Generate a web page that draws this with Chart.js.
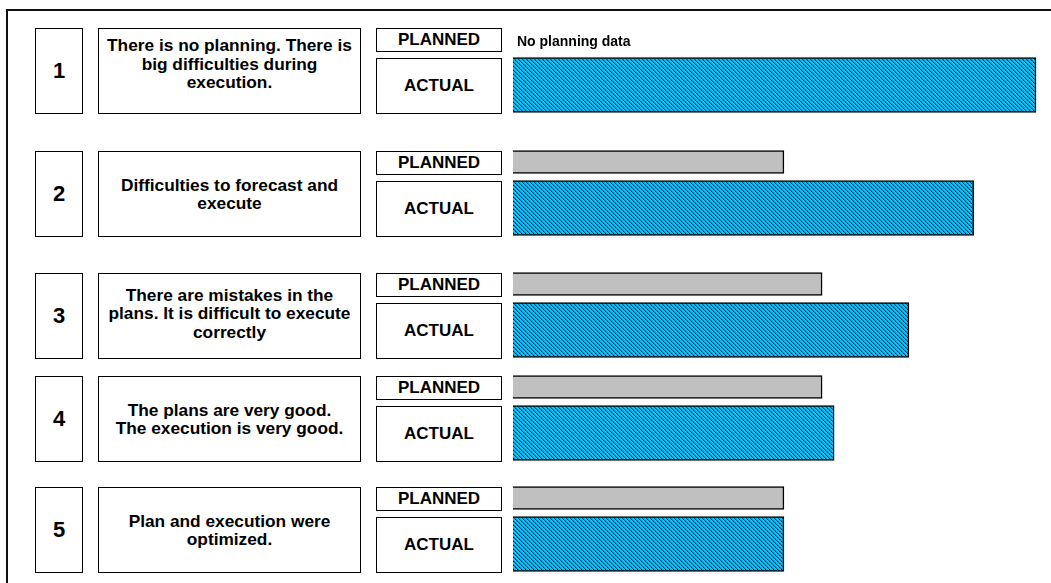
<!DOCTYPE html>
<html>
<head>
<meta charset="utf-8">
<script src="https://cdn.jsdelivr.net/npm/chart.js@4.4.1/dist/chart.umd.min.js"></script>
<style>
    html, body { margin: 0; padding: 0; background: #fff; }
    body { width: 1051px; height: 583px; position: relative; overflow: hidden;
           font-family: "Liberation Sans", Arial, sans-serif; font-weight: bold; color: #000; }
    .frame { position: absolute; left: 6px; top: 9px; width: 1200px; height: 700px;
             border-left: 2px solid #111; border-top: 2px solid #111; }
    .box { position: absolute; box-sizing: border-box; border: 1px solid #000; background: #fff;
           display: flex; align-items: center; justify-content: center; text-align: center; }
    .num { left: 35px; width: 48px; height: 86px; font-size: 22px; }
    .desc { left: 98px; width: 263px; height: 86px; font-size: 17.3px; line-height: 18.5px; }
    .lbl-plan { left: 376px; width: 126px; height: 24px; font-size: 17px; }
    .lbl-act { left: 376px; width: 126px; height: 56px; font-size: 17px; }
    .bars { position: absolute; left: 505px; width: 546px; height: 112px; }
</style>
</head>
<body>
<div class="frame"></div>
<div id="rows"></div>
<script>
// Données
const rowNumbers = ['1', '2', '3', '4', '5'];
const descriptions = [
    ['There is no planning. There is', 'big difficulties during', 'execution.'],
    ['Difficulties to forecast and', 'execute'],
    ['There are mistakes in the', 'plans. It is difficult to execute', 'correctly'],
    ['The plans are very good.', 'The execution is very good.'],
    ['Plan and execution were', 'optimized.']
];
const barLabels = ['PLANNED', 'ACTUAL'];
const plannedValues = [null, 51.8, 59.1, 59.1, 51.8];
const actualValues = [100, 88.1, 75.7, 61.4, 51.8];
const valueMax = 100;
const noDataText = 'No planning data';

// position verticale de chaque ligne (et petit décalage du texte)
const rowTops = [28, 151, 273, 376, 487];
const descShift = [14, 0, 5, 0, 0];

// motif hachuré pour les barres ACTUAL
function makeHatch() {
    const c = document.createElement('canvas');
    c.width = 8; c.height = 8;
    const g = c.getContext('2d');
    g.fillStyle = '#00CCFF';
    g.fillRect(0, 0, 8, 8);
    for (let y = 0; y < 8; y++) {
        for (let k = 0; k < 8; k += 4) {
            g.fillStyle = (y % 2 === 0) ? '#000000' : '#00669A';
            g.fillRect((y + k) % 8, y, 1, 1);
            g.fillStyle = '#0090C4';
            g.fillRect((y + k + 1) % 8, y, 1, 1);
        }
    }
    return g.createPattern(c, 'repeat');
}
const hatch = makeHatch();

// texte quand il n'y a pas de planification
const noDataPlugin = {
    id: 'noData',
    afterDatasetsDraw(chart) {
        const v = chart.data.datasets[0].data[0];
        if (v !== null) return;
        const ctx = chart.ctx;
        ctx.save();
        ctx.font = 'bold 14px "Liberation Sans", Arial, sans-serif';
        ctx.fillStyle = '#000';
        ctx.textAlign = 'left';
        ctx.textBaseline = 'middle';
        ctx.fillText(noDataText, chart.scales.x.getPixelForValue(0) + 4,
                     chart.scales.y.getPixelForValue(0) + 3);
        ctx.restore();
    }
};

const rowsEl = document.getElementById('rows');

rowNumbers.forEach((n, i) => {
    const top = rowTops[i];

    const num = document.createElement('div');
    num.className = 'box num';
    num.style.top = top + 'px';
    num.textContent = n;
    rowsEl.appendChild(num);

    const desc = document.createElement('div');
    desc.className = 'box desc';
    desc.style.top = top + 'px';
    desc.style.paddingBottom = descShift[i] + 'px';
    desc.innerHTML = descriptions[i].join('<br>');
    rowsEl.appendChild(desc);

    const lp = document.createElement('div');
    lp.className = 'box lbl-plan';
    lp.style.top = top + 'px';
    lp.textContent = barLabels[0];
    rowsEl.appendChild(lp);

    const la = document.createElement('div');
    la.className = 'box lbl-act';
    la.style.top = (top + 30) + 'px';
    la.textContent = barLabels[1];
    rowsEl.appendChild(la);

    const wrap = document.createElement('div');
    wrap.className = 'bars';
    wrap.style.top = (top - 22) + 'px';
    const cv = document.createElement('canvas');
    wrap.appendChild(cv);
    rowsEl.appendChild(wrap);

    new Chart(cv.getContext('2d'), {
        type: 'bar',
        data: {
            labels: barLabels,
            datasets: [{
                label: barLabels[0],
                data: [plannedValues[i], null],
                backgroundColor: '#C0C0C0',
                borderColor: '#000',
                borderWidth: 1.5,
                barThickness: 23,
                grouped: false,
                clip: false
            }, {
                label: barLabels[1],
                data: [null, actualValues[i]],
                backgroundColor: hatch,
                borderColor: '#000',
                borderWidth: 1.5,
                barThickness: 55,
                grouped: false,
                clip: false
            }]
        },
        options: {
            indexAxis: 'y',
            responsive: true,
            maintainAspectRatio: false,
            animation: false,
            layout: { padding: { left: 8, right: 15, top: 10, bottom: 10 } },
            scales: {
                x: { display: false, min: 0, max: valueMax },
                y: { display: false, offset: true }
            },
            plugins: {
                legend: { display: false },
                tooltip: { enabled: false }
            }
        },
        plugins: [noDataPlugin]
    });
});
</script>
</body>
</html>
